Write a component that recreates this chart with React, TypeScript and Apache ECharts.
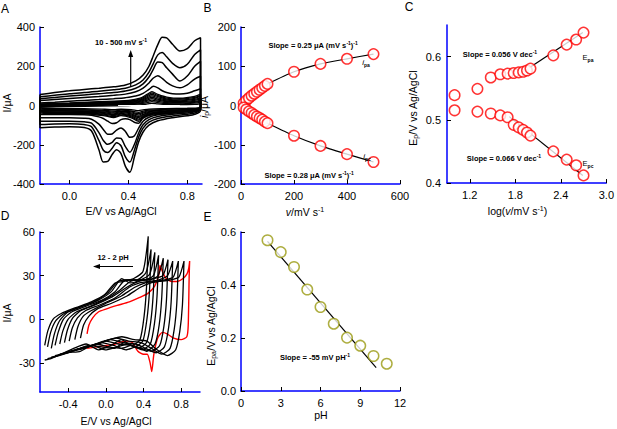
import React, { useEffect, useRef } from 'react';
import * as echarts from 'echarts';

// ---------- Panel A: CVs at 10–500 mV/s ----------
const A_AN_E = [-0.2, -0.1, 0.0, 0.1, 0.2, 0.3, 0.38, 0.45, 0.5, 0.54, 0.57, 0.6, 0.63, 0.66, 0.7, 0.75, 0.8, 0.85, 0.89];
const A_CA_E = [0.89, 0.85, 0.8, 0.7, 0.6, 0.54, 0.5, 0.47, 0.44, 0.41, 0.38, 0.35, 0.32, 0.29, 0.26, 0.23, 0.2, 0.15, 0.1, 0.0, -0.1, -0.2];
const A_AN_500 = [56, 66, 75, 82, 88, 95, 104, 125, 155, 200, 255, 310, 348, 345, 312, 278, 290, 330, 345];
const A_CA_500 = [-25, -45, -52, -62, -78, -100, -135, -185, -265, -340, -310, -245, -225, -250, -285, -288, -225, -130, -112, -108, -110, -114];
const A_AN_400 = [44, 52, 60, 66, 72, 80, 88, 105, 130, 170, 215, 258, 270, 248, 215, 192, 210, 260, 284];
const A_CA_400 = [-20, -38, -44, -53, -66, -85, -115, -160, -230, -288, -262, -205, -190, -218, -240, -228, -178, -108, -97, -93, -94, -97];
const A_AN_300 = [34, 41, 48, 54, 60, 66, 74, 88, 110, 145, 185, 222, 218, 192, 160, 125, 150, 200, 225];
const A_CA_300 = [-15, -32, -38, -45, -56, -72, -98, -140, -200, -238, -210, -168, -165, -188, -198, -178, -138, -90, -83, -80, -80, -80];
const A_AN_200 = [25, 31, 36, 41, 46, 52, 58, 70, 88, 115, 140, 152, 138, 118, 100, 90, 105, 135, 149];
const A_CA_200 = [-10, -25, -31, -38, -47, -60, -80, -115, -155, -162, -132, -115, -125, -145, -147, -122, -95, -70, -65, -63, -63, -63];
const A_AN_100 = [13, 17, 22, 26, 30, 35, 40, 48, 62, 82, 98, 90, 75, 66, 60, 58, 62, 75, 85];
const A_CA_100 = [-5, -18, -23, -28, -35, -45, -62, -90, -85, -72, -68, -72, -88, -92, -80, -66, -58, -50, -47, -46, -46, -46];

const A_SM_AN_E = [-0.2, 0.0, 0.2, 0.4, 0.48, 0.53, 0.56, 0.6, 0.66, 0.75, 0.85, 0.89];
const A_SM_CA_E = [0.89, 0.8, 0.65, 0.54, 0.5, 0.47, 0.42, 0.35, 0.3, 0.24, 0.1, -0.2];
const A_SM_AN = [
  [-9, -6, -3, 0, 3, 8, 11, 8, 5, 4, 6, 9],
  [-6, -3, 1, 5, 9, 15, 20, 15, 10, 8, 12, 16],
  [-4, 0, 4, 8, 13, 22, 27, 21, 14, 12, 16, 22],
  [-2, 2, 7, 11, 17, 28, 35, 27, 19, 16, 21, 28],
  [0, 4, 9, 14, 21, 34, 42, 33, 23, 20, 26, 34],
  [2, 7, 12, 17, 25, 40, 49, 39, 28, 24, 31, 40],
  [4, 9, 14, 20, 29, 46, 56, 45, 33, 28, 36, 46],
  [6, 11, 17, 23, 33, 52, 63, 51, 38, 33, 41, 52],
  [8, 13, 19, 26, 37, 58, 70, 57, 43, 37, 46, 58],
];
const A_SM_CA = [
  [-11, -14, -16, -18, -22, -26, -21, -19, -21, -19, -16, -15],
  [-12, -17, -20, -23, -29, -35, -28, -24, -28, -25, -21, -19],
  [-13, -20, -24, -27, -34, -42, -33, -28, -33, -29, -24, -22],
  [-14, -22, -27, -31, -39, -49, -38, -32, -38, -33, -27, -25],
  [-15, -24, -30, -35, -45, -56, -43, -36, -43, -37, -30, -28],
  [-16, -26, -33, -39, -50, -62, -48, -40, -47, -41, -33, -31],
  [-17, -28, -36, -43, -55, -69, -53, -44, -52, -45, -36, -34],
  [-18, -30, -39, -47, -60, -75, -58, -48, -57, -49, -39, -37],
  [-19, -32, -42, -51, -65, -81, -63, -52, -62, -53, -42, -40],
];
const A_WHITE_E = [0.33, 0.75];
const A_WHITE_I = [0, 0];

// ---------- Panel B: peak currents vs scan rate ----------
const B_SCAN = [10, 20, 30, 40, 50, 60, 70, 80, 90, 100, 200, 300, 400, 500];
const B_IPA = [6, 13, 19, 25, 30, 35, 40, 45, 50, 55, 86, 106, 119, 131];
const B_IPC = [-5, -10, -15, -19, -24, -28, -32, -36, -41, -45, -77, -103, -124, -144];

// ---------- Panel C: peak potentials vs log(scan rate) ----------
const C_LOGV = [1.0, 1.301, 1.477, 1.602, 1.699, 1.778, 1.845, 1.903, 1.954, 2.0, 2.301, 2.477, 2.602, 2.699];
const C_EPA = [0.539, 0.549, 0.567, 0.572, 0.573, 0.574, 0.575, 0.576, 0.578, 0.581, 0.602, 0.619, 0.627, 0.638];
const C_EPC = [0.515, 0.513, 0.510, 0.507, 0.504, 0.492, 0.488, 0.484, 0.480, 0.475, 0.450, 0.437, 0.428, 0.412];
const C_EPA_FIT_X = [1.98, 2.69];
const C_EPA_FIT_Y = [0.582, 0.638];
const C_EPC_FIT_X = [1.72, 2.69];
const C_EPC_FIT_Y = [0.505, 0.412];

// ---------- Panel D: CVs at pH 12–2 ----------
const D_LEFT = [-0.65, -0.62, -0.58, -0.54, -0.49, -0.44, -0.39, -0.33, -0.27];
const D_RIGHT = [0.45, 0.48, 0.52, 0.56, 0.61, 0.66, 0.71, 0.77, 0.83];
const D_FRAC_AN = [0, 0.03, 0.08, 0.16, 0.3, 0.45, 0.58, 0.68, 0.76, 0.86, 0.95, 1.0];
const D_FRAC_CA = [0.985, 0.96, 0.92, 0.84, 0.74, 0.64, 0.52, 0.4, 0.28, 0.16, 0.06, 0.0];
const D_BLACK_AN = [
  [-18, -8, 0, 4, 8, 12, 17, 25, 26, 28, 33, 57],
  [-19, -9, -1, 4, 8, 12, 18, 26, 27, 27, 32, 48],
  [-20, -10, -1, 5, 9, 13, 19, 28, 25, 27, 31, 46],
  [-18, -9, 0, 5, 9, 13, 19, 27, 27, 27, 30, 44],
  [-17, -8, 0, 5, 9, 14, 20, 26, 27, 27, 30, 42],
  [-16, -7, 1, 6, 10, 15, 21, 25, 27, 28, 30, 41],
  [-15, -6, 1, 6, 10, 15, 22, 25, 26, 27, 30, 40],
  [-14, -5, 2, 6, 11, 16, 22, 25, 26, 27, 29, 40],
  [-13, -4, 2, 7, 11, 16, 22, 25, 26, 27, 29, 40],
];
const D_BLACK_CA = [
  [24, 2, -14, -18, -14, -18, -21, -17, -20, -24, -27, -28],
  [20, 0, -15, -19, -16, -20, -19, -18, -21, -24, -26, -27],
  [18, -2, -16, -20, -17, -19, -21, -18, -22, -23, -25, -26],
  [16, -3, -17, -21, -18, -20, -19, -17, -20, -22, -24, -25],
  [15, -4, -17, -22, -19, -21, -18, -16, -19, -21, -23, -24],
  [13, -5, -18, -22, -20, -18, -17, -15, -18, -20, -22, -23],
  [12, -6, -19, -23, -20, -17, -16, -14, -17, -19, -21, -22],
  [11, -7, -20, -24, -20, -16, -15, -13, -15, -18, -20, -21],
  [10, -8, -21, -25, -21, -15, -14, -12, -14, -17, -19, -20],
];
const D_RED_AN_E = [-0.2, -0.18, -0.14, -0.08, 0.0, 0.12, 0.25, 0.36, 0.45, 0.52, 0.56, 0.575, 0.6, 0.64, 0.7, 0.76, 0.82, 0.86, 0.88, 0.89];
const D_RED_AN_I = [-10, -4, 1, 5, 7, 9.5, 12, 15, 18, 23, 30, 37, 33, 28, 26, 26, 28, 31, 35, 40];
const D_RED_CA_E = [0.885, 0.875, 0.86, 0.8, 0.72, 0.65, 0.6, 0.55, 0.51, 0.487, 0.47, 0.44, 0.4, 0.34, 0.28, 0.2, 0.1, 0.0, -0.1, -0.2];
const D_RED_CA_I = [30, -4, -12, -14, -13, -10, -9, -13, -24, -36, -30, -24, -24, -22, -16, -15, -17, -18, -19, -20];

// ---------- Panel E: Epa vs pH ----------
const E_PH = [2, 3, 4, 5, 6, 7, 8, 9, 10, 11];
const E_EPA = [0.569, 0.524, 0.468, 0.383, 0.317, 0.254, 0.2015, 0.171, 0.132, 0.103];
const E_FIT_PH = [2, 10.2];
const E_FIT_E = [0.565, 0.088];

const FONT = 'Arial, "Liberation Sans", sans-serif';
const BLUE = '#0000ff';
const OLIVE = '#9a9a12';

const pairs = (xs: number[], ys: number[]) => xs.map((x, k) => [x, ys[k]]);

function loop(eAn: number[], iAn: number[], eCa: number[], iCa: number[], close: boolean) {
  const d = pairs(eAn, iAn).concat(pairs(eCa, iCa));
  if (close) d.push(d[0]);
  return d;
}

function xAx(grid: number, min: number, max: number, extra: any = {}) {
  return {
    type: 'value', gridIndex: grid, min, max, splitLine: { show: false },
    axisLine: { show: true, onZero: false, lineStyle: { color: BLUE, width: 1.5 } },
    axisTick: { show: true, inside: true, length: 4, lineStyle: { color: '#000', width: 1 }, ...(extra.tick || {}) },
    axisLabel: { color: '#000', fontSize: 11, fontFamily: FONT, margin: 6, ...(extra.label || {}) },
    ...(extra.axis || {}),
  };
}
function yAx(grid: number, min: number, max: number, extra: any = {}) {
  return {
    type: 'value', gridIndex: grid, min, max, splitLine: { show: false },
    axisLine: { show: true, onZero: false, lineStyle: { color: BLUE, width: 1.5 } },
    axisTick: { show: true, inside: true, length: 4, lineStyle: { color: '#000', width: 1 }, ...(extra.tick || {}) },
    axisLabel: { color: '#000', fontSize: 11, fontFamily: FONT, margin: 5, ...(extra.label || {}) },
    ...(extra.axis || {}),
  };
}

const cvLine = (grid: number, data: any[], color = '#000', width = 1.3, smooth: any = 0.3) => ({
  type: 'line', xAxisIndex: grid, yAxisIndex: grid, data, showSymbol: false, symbol: 'none',
  smooth, silent: true, lineStyle: { color, width }, z: 2,
});

const hollow = (grid: number, data: any[], color: string) => ({
  type: 'scatter', xAxisIndex: grid, yAxisIndex: grid, data, symbol: 'circle', symbolSize: 10.5,
  itemStyle: { color: '#fff', borderColor: color, borderWidth: 1.5 }, silent: true, z: 5,
});

const RICH_SMALL = {
  sup: { fontSize: 5, fontWeight: 'bold', fontFamily: FONT, verticalAlign: 'top', lineHeight: 6 },
  sub: { fontSize: 5, fontWeight: 'bold', fontFamily: FONT, verticalAlign: 'bottom', lineHeight: 6 },
  it: { fontSize: 8, fontStyle: 'italic', fontFamily: FONT, lineHeight: 10 },
};
const RICH_TITLE = {
  sup: { fontSize: 7, fontFamily: FONT, verticalAlign: 'top', lineHeight: 7 },
  sub: { fontSize: 7, fontFamily: FONT, verticalAlign: 'bottom', lineHeight: 7 },
  it: { fontSize: 10.5, fontStyle: 'italic', fontFamily: FONT, lineHeight: 12 },
};

function txt(x: number, y: number, text: string, o: any = {}) {
  return {
    type: 'text', x, y, rotation: o.rot || 0, silent: true, z: 10,
    style: {
      text, x: 0, y: 0, fontSize: o.size ?? 10.5, fontWeight: o.weight ?? 'normal', fontFamily: FONT,
      fill: '#000', textAlign: o.align ?? 'center', textVerticalAlign: 'middle',
      lineHeight: o.lh ?? 12, rich: o.rich,
    },
  };
}

function buildOption() {
  const series: any[] = [];
  // Panel A
  const big = [[A_AN_500, A_CA_500], [A_AN_400, A_CA_400], [A_AN_300, A_CA_300], [A_AN_200, A_CA_200], [A_AN_100, A_CA_100]];
  A_SM_AN.forEach((an, k) => series.push(cvLine(0, loop(A_SM_AN_E, an, A_SM_CA_E, A_SM_CA[k], true), '#000', 1.3)));
  big.forEach(([an, ca]) => series.push(cvLine(0, loop(A_AN_E, an, A_CA_E, ca, true), '#000', 1.5)));
  series.push({ ...cvLine(0, pairs(A_WHITE_E, A_WHITE_I), '#fff', 1, false), z: 3 });

  // Panel B
  series.push(cvLine(1, pairs(B_SCAN, B_IPA), '#000', 1.2, 0.2));
  series.push(cvLine(1, pairs(B_SCAN, B_IPC), '#000', 1.2, 0.2));
  series.push(hollow(1, pairs(B_SCAN, B_IPA), '#ff0000'));
  series.push(hollow(1, pairs(B_SCAN, B_IPC), '#ff0000'));

  // Panel C
  series.push(cvLine(2, pairs(C_EPA_FIT_X, C_EPA_FIT_Y), '#000', 1.2, false));
  series.push(cvLine(2, pairs(C_EPC_FIT_X, C_EPC_FIT_Y), '#000', 1.2, false));
  series.push(hollow(2, pairs(C_LOGV, C_EPA), '#ff0000'));
  series.push(hollow(2, pairs(C_LOGV, C_EPC), '#ff0000'));

  // Panel D
  series.push(cvLine(3, loop(D_RED_AN_E, D_RED_AN_I, D_RED_CA_E, D_RED_CA_I, false), '#ff0000', 1.4, 0.2));
  D_LEFT.forEach((l, k) => {
    const r = D_RIGHT[k];
    const eAn = D_FRAC_AN.map((f) => l + f * (r - l));
    const eCa = D_FRAC_CA.map((f) => l + f * (r - l));
    series.push(cvLine(3, loop(eAn, D_BLACK_AN[k], eCa, D_BLACK_CA[k], false), '#000', 1.3, 0.2));
  });

  // Panel E
  series.push(cvLine(4, pairs(E_FIT_PH, E_FIT_E), '#000', 1.2, false));
  series.push(hollow(4, pairs(E_PH, E_EPA), OLIVE));

  const fix1 = (v: number) => v.toFixed(1);

  return {
    animation: false,
    backgroundColor: '#fff',
    textStyle: { fontFamily: FONT },
    grid: [
      { left: 40, top: 27, width: 162, height: 157 },
      { left: 241, top: 27, width: 159, height: 157 },
      { left: 447, top: 25, width: 160, height: 158 },
      { left: 40, top: 232, width: 160, height: 160 },
      { left: 241, top: 232, width: 159, height: 159 },
    ],
    xAxis: [
      xAx(0, -0.2, 0.9, { label: { customValues: [0, 0.4, 0.8], formatter: fix1 }, tick: { customValues: [0, 0.4, 0.8] } }),
      xAx(1, 0, 600, { axis: { interval: 200 } }),
      xAx(2, 0.9, 3.0, { label: { customValues: [1.2, 1.8, 2.4, 3.0], formatter: fix1 }, tick: { customValues: [1.2, 1.8, 2.4, 3.0] } }),
      xAx(3, -0.7, 1.0, { label: { customValues: [-0.4, 0, 0.4, 0.8], formatter: fix1 }, tick: { customValues: [-0.4, 0, 0.4, 0.8] } }),
      xAx(4, 0, 12, { axis: { interval: 3 } }),
    ],
    yAxis: [
      yAx(0, -400, 400, { axis: { interval: 200 } }),
      yAx(1, -200, 200, { axis: { interval: 100 } }),
      yAx(2, 0.4, 0.65, { label: { customValues: [0.4, 0.5, 0.6], formatter: fix1, margin: 6 }, tick: { customValues: [0.4, 0.5, 0.6] } }),
      yAx(3, -50, 60, { label: { customValues: [-30, 0, 30, 60] }, tick: { customValues: [-30, 0, 30, 60] } }),
      yAx(4, 0, 0.6, { axis: { interval: 0.2 }, label: { formatter: fix1 } }),
    ],
    series,
    graphic: [
      // panel letters
      txt(5, 9, 'A', { size: 12 }),
      txt(207.5, 8, 'B', { size: 12 }),
      txt(409, 7, 'C', { size: 12 }),
      txt(5, 216, 'D', { size: 12 }),
      txt(207.5, 217, 'E', { size: 12 }),
      // axis titles
      txt(6.5, 103, 'I/μA', { rot: Math.PI / 2 }),
      txt(121, 211, 'E/V vs Ag/AgCl'),
      txt(203.5, 107, '{it|i}{sub|p}/μA', { rot: Math.PI / 2, rich: RICH_TITLE }),
      txt(305, 211.5, '{it|v}/mV s{sup|-1}', { rich: RICH_TITLE }),
      txt(413, 108, 'E{sub|p}/V vs Ag/AgCl', { rot: Math.PI / 2, rich: RICH_TITLE }),
      txt(517.5, 211, 'log({it|v}/mV s{sup|-1})', { rich: RICH_TITLE }),
      txt(6.5, 313, 'I/μA', { rot: Math.PI / 2 }),
      txt(116, 421, 'E/V vs Ag/AgCl'),
      txt(211, 326, 'E{sub|pa}/V vs Ag/AgCl', { rot: Math.PI / 2, rich: RICH_TITLE }),
      txt(321, 415, 'pH'),
      // annotations
      txt(121, 42, '10 - 500 mV s{sup|-1}', { size: 7.5, weight: 'bold', lh: 10, rich: RICH_SMALL }),
      { type: 'line', silent: true, z: 10, shape: { x1: 130.7, y1: 87, x2: 130.7, y2: 55 }, style: { stroke: '#000', lineWidth: 1.2 } },
      { type: 'polygon', silent: true, z: 10, shape: { points: [[130.7, 50], [128.2, 57], [133.2, 57]] }, style: { fill: '#000' } },
      txt(313, 45, 'Slope = 0.25 μA (mV s{sup|-1}){sup|-1}', { size: 7.5, weight: 'bold', lh: 10, rich: RICH_SMALL }),
      txt(366, 62, '{it|i}{sub|pa}', { size: 7.5, lh: 10, rich: RICH_SMALL }),
      txt(367, 156, '{it|i}{sub|pc}', { size: 7.5, lh: 10, rich: RICH_SMALL }),
      txt(309, 175, 'Slope = 0.28 μA (mV s{sup|-1}){sup|-1}', { size: 7.5, weight: 'bold', lh: 10, rich: RICH_SMALL }),
      txt(500, 54, 'Slope = 0.056 V dec{sup|-1}', { size: 7.5, weight: 'bold', lh: 10, rich: RICH_SMALL }),
      txt(588, 57, 'E{sub|pa}', { size: 7.5, lh: 10, rich: RICH_SMALL }),
      txt(504, 158, 'Slope = 0.066 V dec{sup|-1}', { size: 7.5, weight: 'bold', lh: 10, rich: RICH_SMALL }),
      txt(588, 163, 'E{sub|pc}', { size: 7.5, lh: 10, rich: RICH_SMALL }),
      txt(113, 257, '12 - 2 pH', { size: 7.5, weight: 'bold', lh: 10 }),
      { type: 'line', silent: true, z: 10, shape: { x1: 133, y1: 266.5, x2: 98, y2: 266.5 }, style: { stroke: '#000', lineWidth: 1.2 } },
      { type: 'polygon', silent: true, z: 10, shape: { points: [[93, 266.5], [100, 264], [100, 269]] }, style: { fill: '#000' } },
      txt(315, 357, 'Slope = -55 mV pH{sup|-1}', { size: 7.5, weight: 'bold', lh: 10, rich: RICH_SMALL }),
    ],
  };
}

export default function App() {
  const ref = useRef<HTMLDivElement>(null);
  useEffect(() => {
    if (!ref.current) return;
    const chart = echarts.init(ref.current, null, { renderer: 'svg' });
    chart.setOption(buildOption() as any);
    return () => chart.dispose();
  }, []);
  return <div ref={ref} style={{ position: 'absolute', left: 0, top: 0, width: 617, height: 429 }} />;
}
